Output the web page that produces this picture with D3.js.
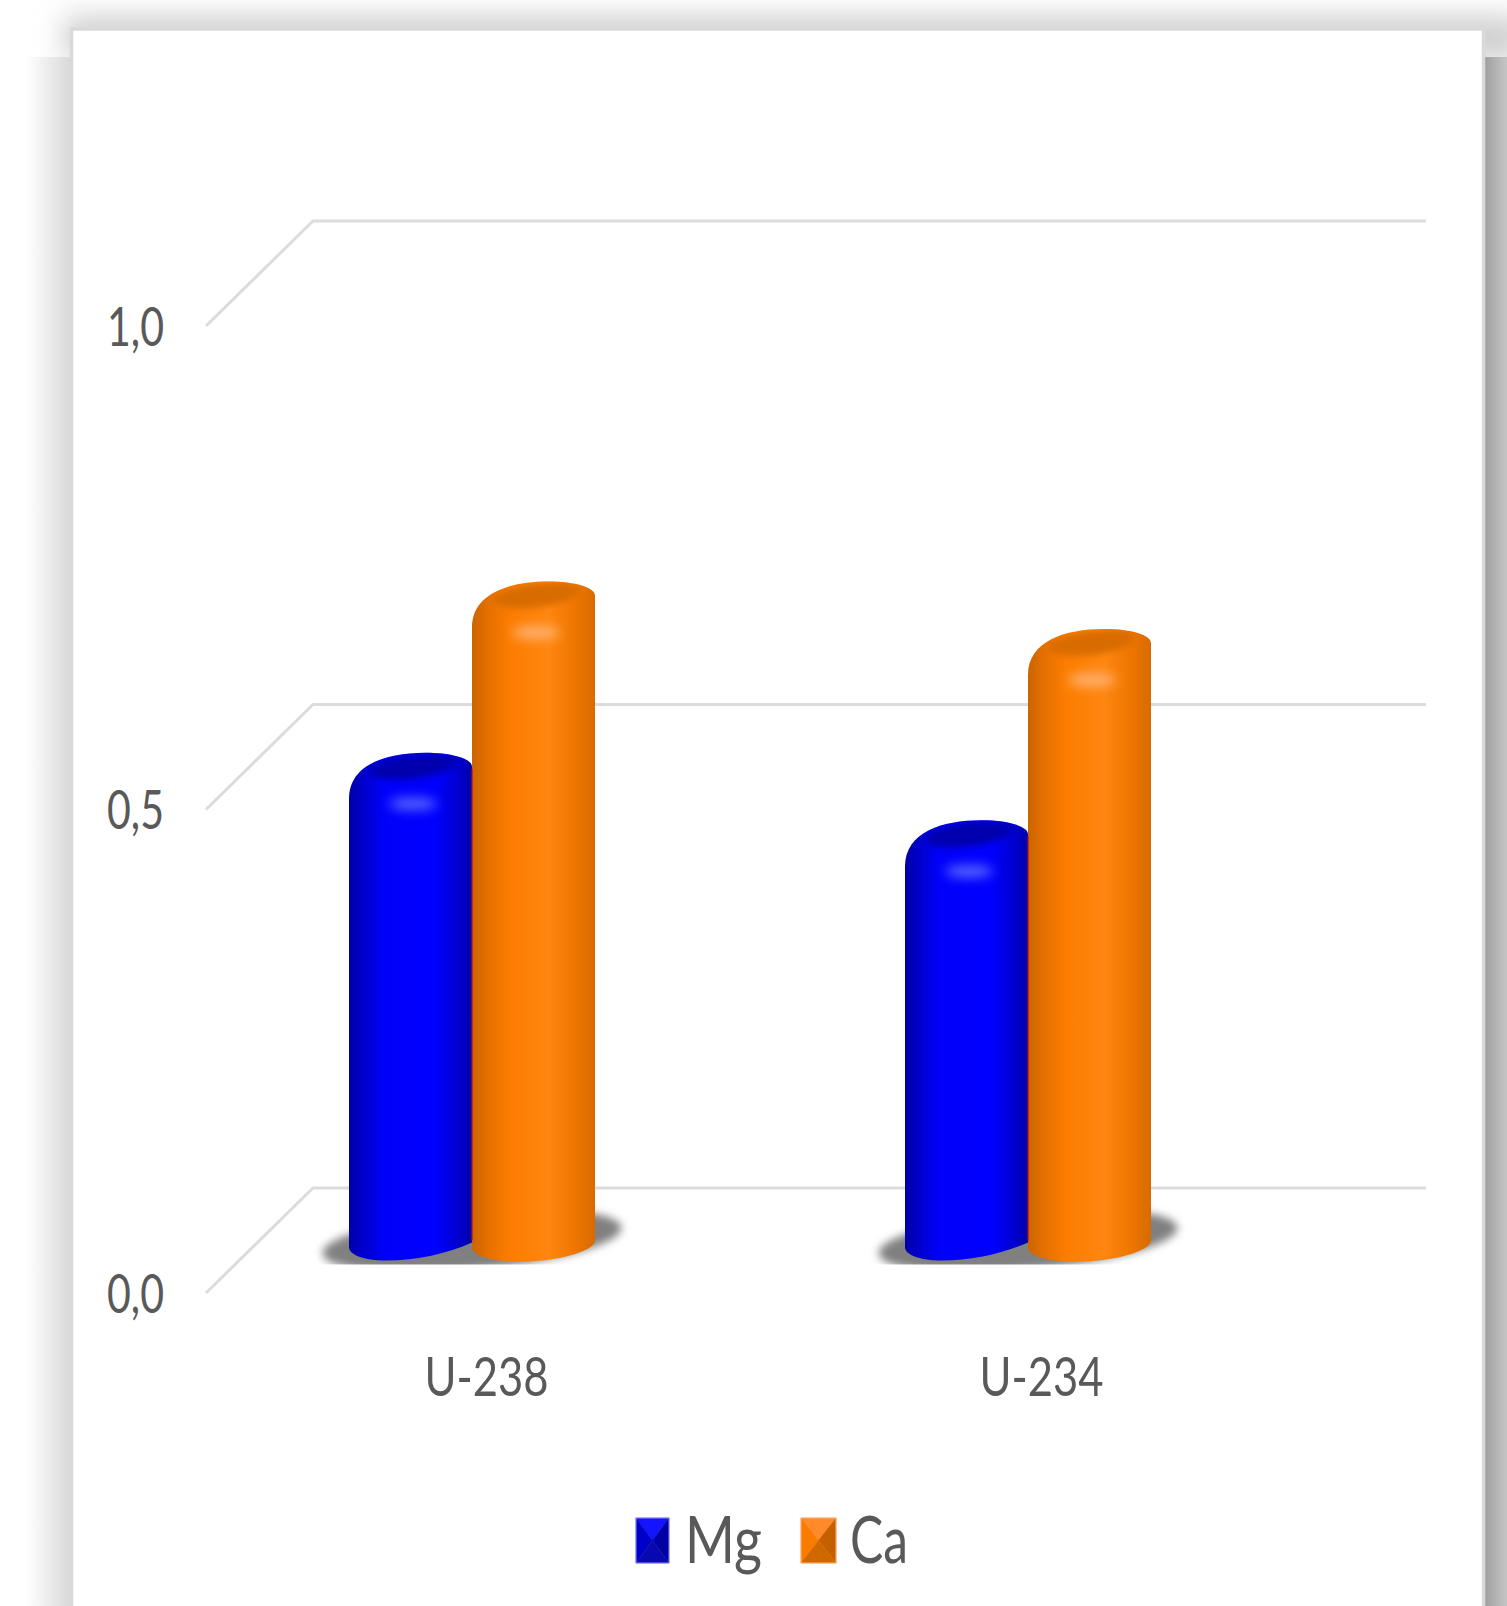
<!DOCTYPE html>
<html>
<head>
<meta charset="utf-8">
<script src="https://cdn.jsdelivr.net/npm/d3@7"></script>
<style>
html,body{margin:0;padding:0;background:#fff;overflow:hidden}
svg{display:block}
text{font-family:Lato,"Open Sans",sans-serif;fill:#595959}
</style>
</head>
<body>
<script>
const categories = ["U-238", "U-234"];
const seriesNames = ["Mg", "Ca"];
const mgValues = [0.49, 0.42];
const caValues = [0.667, 0.618];
const yTicks = [0, 0.5, 1];

const W = 1507, H = 1606;
const svg = d3.select("body").append("svg").attr("width", W).attr("height", H);
const defs = svg.append("defs");

const blur = (id, s) => defs.append("filter").attr("id", id)
  .attr("x", "-100%").attr("y", "-300%").attr("width", "300%").attr("height", "700%")
  .append("feGaussianBlur").attr("stdDeviation", s);
blur("soft3", 3); blur("soft4", 4); blur("soft6", 6); blur("soft14", 14);

const hGrad = (id, stops) => defs.append("linearGradient").attr("id", id)
  .selectAll("stop").data(stops).join("stop")
  .attr("offset", d => d[0]).attr("stop-color", d => d[1]);

hGrad("bodyMg", [[0, "#0000a6"], [0.1, "#0000c8"], [0.28, "#0000fa"], [0.7, "#0000ff"], [0.9, "#0000cc"], [1, "#0000a8"]]);
hGrad("bodyCa", [[0, "#c96500"], [0.12, "#e36f00"], [0.3, "#fc7c00"], [0.62, "#ff8610"], [0.85, "#ec7500"], [1, "#d76b00"]]);
hGrad("edgeLeft", [[0, "#ffffff"], [1, "#d8d8d8"]]);
hGrad("edgeRight", [[0, "#9e9e9e"], [1, "#c6c6c6"]]);

/* page backdrop: shadow around the card */
svg.append("rect").attr("x", 64).attr("y", 16).attr("width", 1460).attr("height", 44)
  .attr("fill", "#cfcfcf").attr("filter", "url(#soft14)");
svg.append("rect").attr("x", 26).attr("y", 57).attr("width", 46).attr("height", H - 57).attr("fill", "url(#edgeLeft)");
svg.append("rect").attr("x", 1484).attr("y", 57).attr("width", 23).attr("height", H - 57).attr("fill", "url(#edgeRight)");

/* card */
svg.append("rect").attr("x", 71.5).attr("y", 29).attr("width", 1412).attr("height", H)
  .attr("fill", "#fff").attr("stroke", "#d9d9d9").attr("stroke-width", 3.5);

/* scales: y runs along the front edge of the floor, the back wall is offset by depth */
const depth = { x: 107, y: -105 };
const y = d3.scaleLinear().domain([0, 1]).range([1293, 326]);
const xLabels = d3.scaleBand().domain(categories).range([209, 1319]);
const xGroups = d3.scaleBand().domain(categories).range([194, 1306]);
const barWidth = 123;
const backRight = 1426;

/* gridlines: a diagonal on the side wall, then straight along the back wall */
const gridPath = d3.line();
svg.append("g").selectAll("path").data(yTicks).join("path")
  .attr("d", t => gridPath([[206, y(t)], [206 + depth.x, y(t) + depth.y], [backRight, y(t) + depth.y]]))
  .attr("fill", "none").attr("stroke", "#dcdcdc").attr("stroke-width", 3);

/* value axis */
const yAxis = d3.axisLeft(y).tickValues(yTicks).tickSize(0)
  .tickFormat(d => d3.format(".1f")(d).replace(".", ","));
const yG = svg.append("g").attr("transform", "translate(164,0)").call(yAxis);
yG.select(".domain").remove();
yG.selectAll("text").attr("x", 0).attr("dy", "0.36em")
  .style("font-size", "54px").attr("textLength", 57).attr("lengthAdjust", "spacingAndGlyphs");

/* category axis */
const xAxis = d3.axisBottom(xLabels).tickSize(0);
const xG = svg.append("g").attr("transform", "translate(0,1396)").call(xAxis);
xG.select(".domain").remove();
xG.selectAll("text").attr("y", 0).attr("dy", 0)
  .style("font-size", "55px").attr("textLength", 124).attr("lengthAdjust", "spacingAndGlyphs");

/* floor level of the bars: half way across the floor */
const floorY = y(0) + depth.y / 2;
const barY = v => y(v) + depth.y / 2;

function barOutline(x, v, w, sharpHeel) {
  const t = barY(v), b = floorY;
  const foot = sharpHeel
    ? `L${x + w},${b + 2}C${x + 0.8 * w},${b + 13} ${x + 0.55 * w},${b + 20} ${x + 0.3 * w},${b + 20}`
    : `L${x + w},${b}C${x + w},${b + 12} ${x + 0.62 * w},${b + 23} ${x + 0.32 * w},${b + 21}`;
  return `M${x},${t + 32}C${x},${t - 2} ${x + 0.3 * w},${t - 14} ${x + 0.62 * w},${t - 14}` +
    `C${x + 0.84 * w},${t - 14} ${x + w},${t - 8} ${x + w},${t}` + foot +
    `C${x + 0.12 * w},${b + 20} ${x},${b + 14} ${x},${b + 7}Z`;
}

const series = [
  { key: seriesNames[0], values: mgValues, body: "url(#bodyMg)", cap: "#0000ae", glint: "#5a6cff", heel: true },
  { key: seriesNames[1], values: caValues, body: "url(#bodyCa)", cap: "#d96c00", glint: "#ffb67a", heel: false }
];

const barsLayer = svg.append("g");

/* soft floor shadow under each pair of bars, cut flat along the front */
defs.append("clipPath").attr("id", "floorCut").append("rect")
  .attr("x", 0).attr("y", 0).attr("width", W).attr("height", floorY + 24);
categories.forEach(c => {
  const cx = xGroups(c) + xGroups.bandwidth() / 2;
  barsLayer.append("g").attr("clip-path", "url(#floorCut)").append("ellipse")
    .attr("cx", cx).attr("cy", floorY).attr("rx", 150).attr("ry", 29)
    .attr("transform", `rotate(-5 ${cx} ${floorY})`)
    .attr("fill", "#808080").attr("filter", "url(#soft4)");
});

/* bars */
categories.forEach((c, ci) => {
  const cx = xGroups(c) + xGroups.bandwidth() / 2;
  series.forEach((s, si) => {
    const x = cx + (si - 1) * barWidth;
    const v = s.values[ci];
    const id = `bar-${ci}-${si}`;
    const outline = barOutline(x, v, barWidth, s.heel);
    defs.append("clipPath").attr("id", id).append("path").attr("d", outline);
    const g = barsLayer.append("g").attr("clip-path", `url(#${id})`);
    g.append("rect").attr("x", x).attr("y", barY(v) - 20).attr("width", barWidth)
      .attr("height", floorY - barY(v) + 60).attr("fill", s.body);
    g.append("ellipse").attr("cx", x + 0.52 * barWidth).attr("cy", barY(v))
      .attr("rx", 44).attr("ry", 12)
      .attr("transform", `rotate(-7 ${x + 0.52 * barWidth} ${barY(v)})`)
      .attr("fill", s.cap).attr("filter", "url(#soft3)");
    g.append("ellipse").attr("cx", x + 0.52 * barWidth).attr("cy", barY(v) + 37)
      .attr("rx", 24).attr("ry", 6).attr("fill", s.glint).attr("filter", "url(#soft6)");
  });
  /* thin red line where the two bars touch */
  barsLayer.append("line").attr("x1", cx).attr("x2", cx)
    .attr("y1", barY(mgValues[ci]) + 2).attr("y2", floorY)
    .attr("stroke", "#c0002e").attr("stroke-width", 1.2);
});

/* legend */
const legendItems = [
  { name: seriesNames[0], x: 636, w: 33, tx: 685, tw: 77, edge: "#8f8fff", faces: ["#1414ff", "#0000c8", "#0000a4", "#0808b0"] },
  { name: seriesNames[1], x: 801, w: 35, tx: 850, tw: 58, edge: "#ffb27a", faces: ["#ff8a2a", "#fb7a00", "#c46000", "#d06800"] }
];
const legY = 1518, legH = 45;
legendItems.forEach(it => {
  const m = [it.x + it.w / 2, legY + legH / 2];
  const a = [it.x, legY], b = [it.x + it.w, legY], c = [it.x + it.w, legY + legH], e = [it.x, legY + legH];
  const g = svg.append("g");
  [[a, b, m], [a, e, m], [b, c, m], [e, c, m]].forEach((tri, i) => {
    g.append("path").attr("d", d3.line()(tri) + "Z").attr("fill", it.faces[i]).attr("stroke", it.faces[i]).attr("stroke-width", 0.5);
  });
  g.append("rect").attr("x", it.x).attr("y", legY).attr("width", it.w).attr("height", legH)
    .attr("fill", "none").attr("stroke", it.edge).attr("stroke-width", 1);
  svg.append("text").attr("x", it.tx).attr("y", 1563).text(it.name)
    .style("font-size", "65px").attr("textLength", it.tw).attr("lengthAdjust", "spacingAndGlyphs");
});
</script>
</body>
</html>
